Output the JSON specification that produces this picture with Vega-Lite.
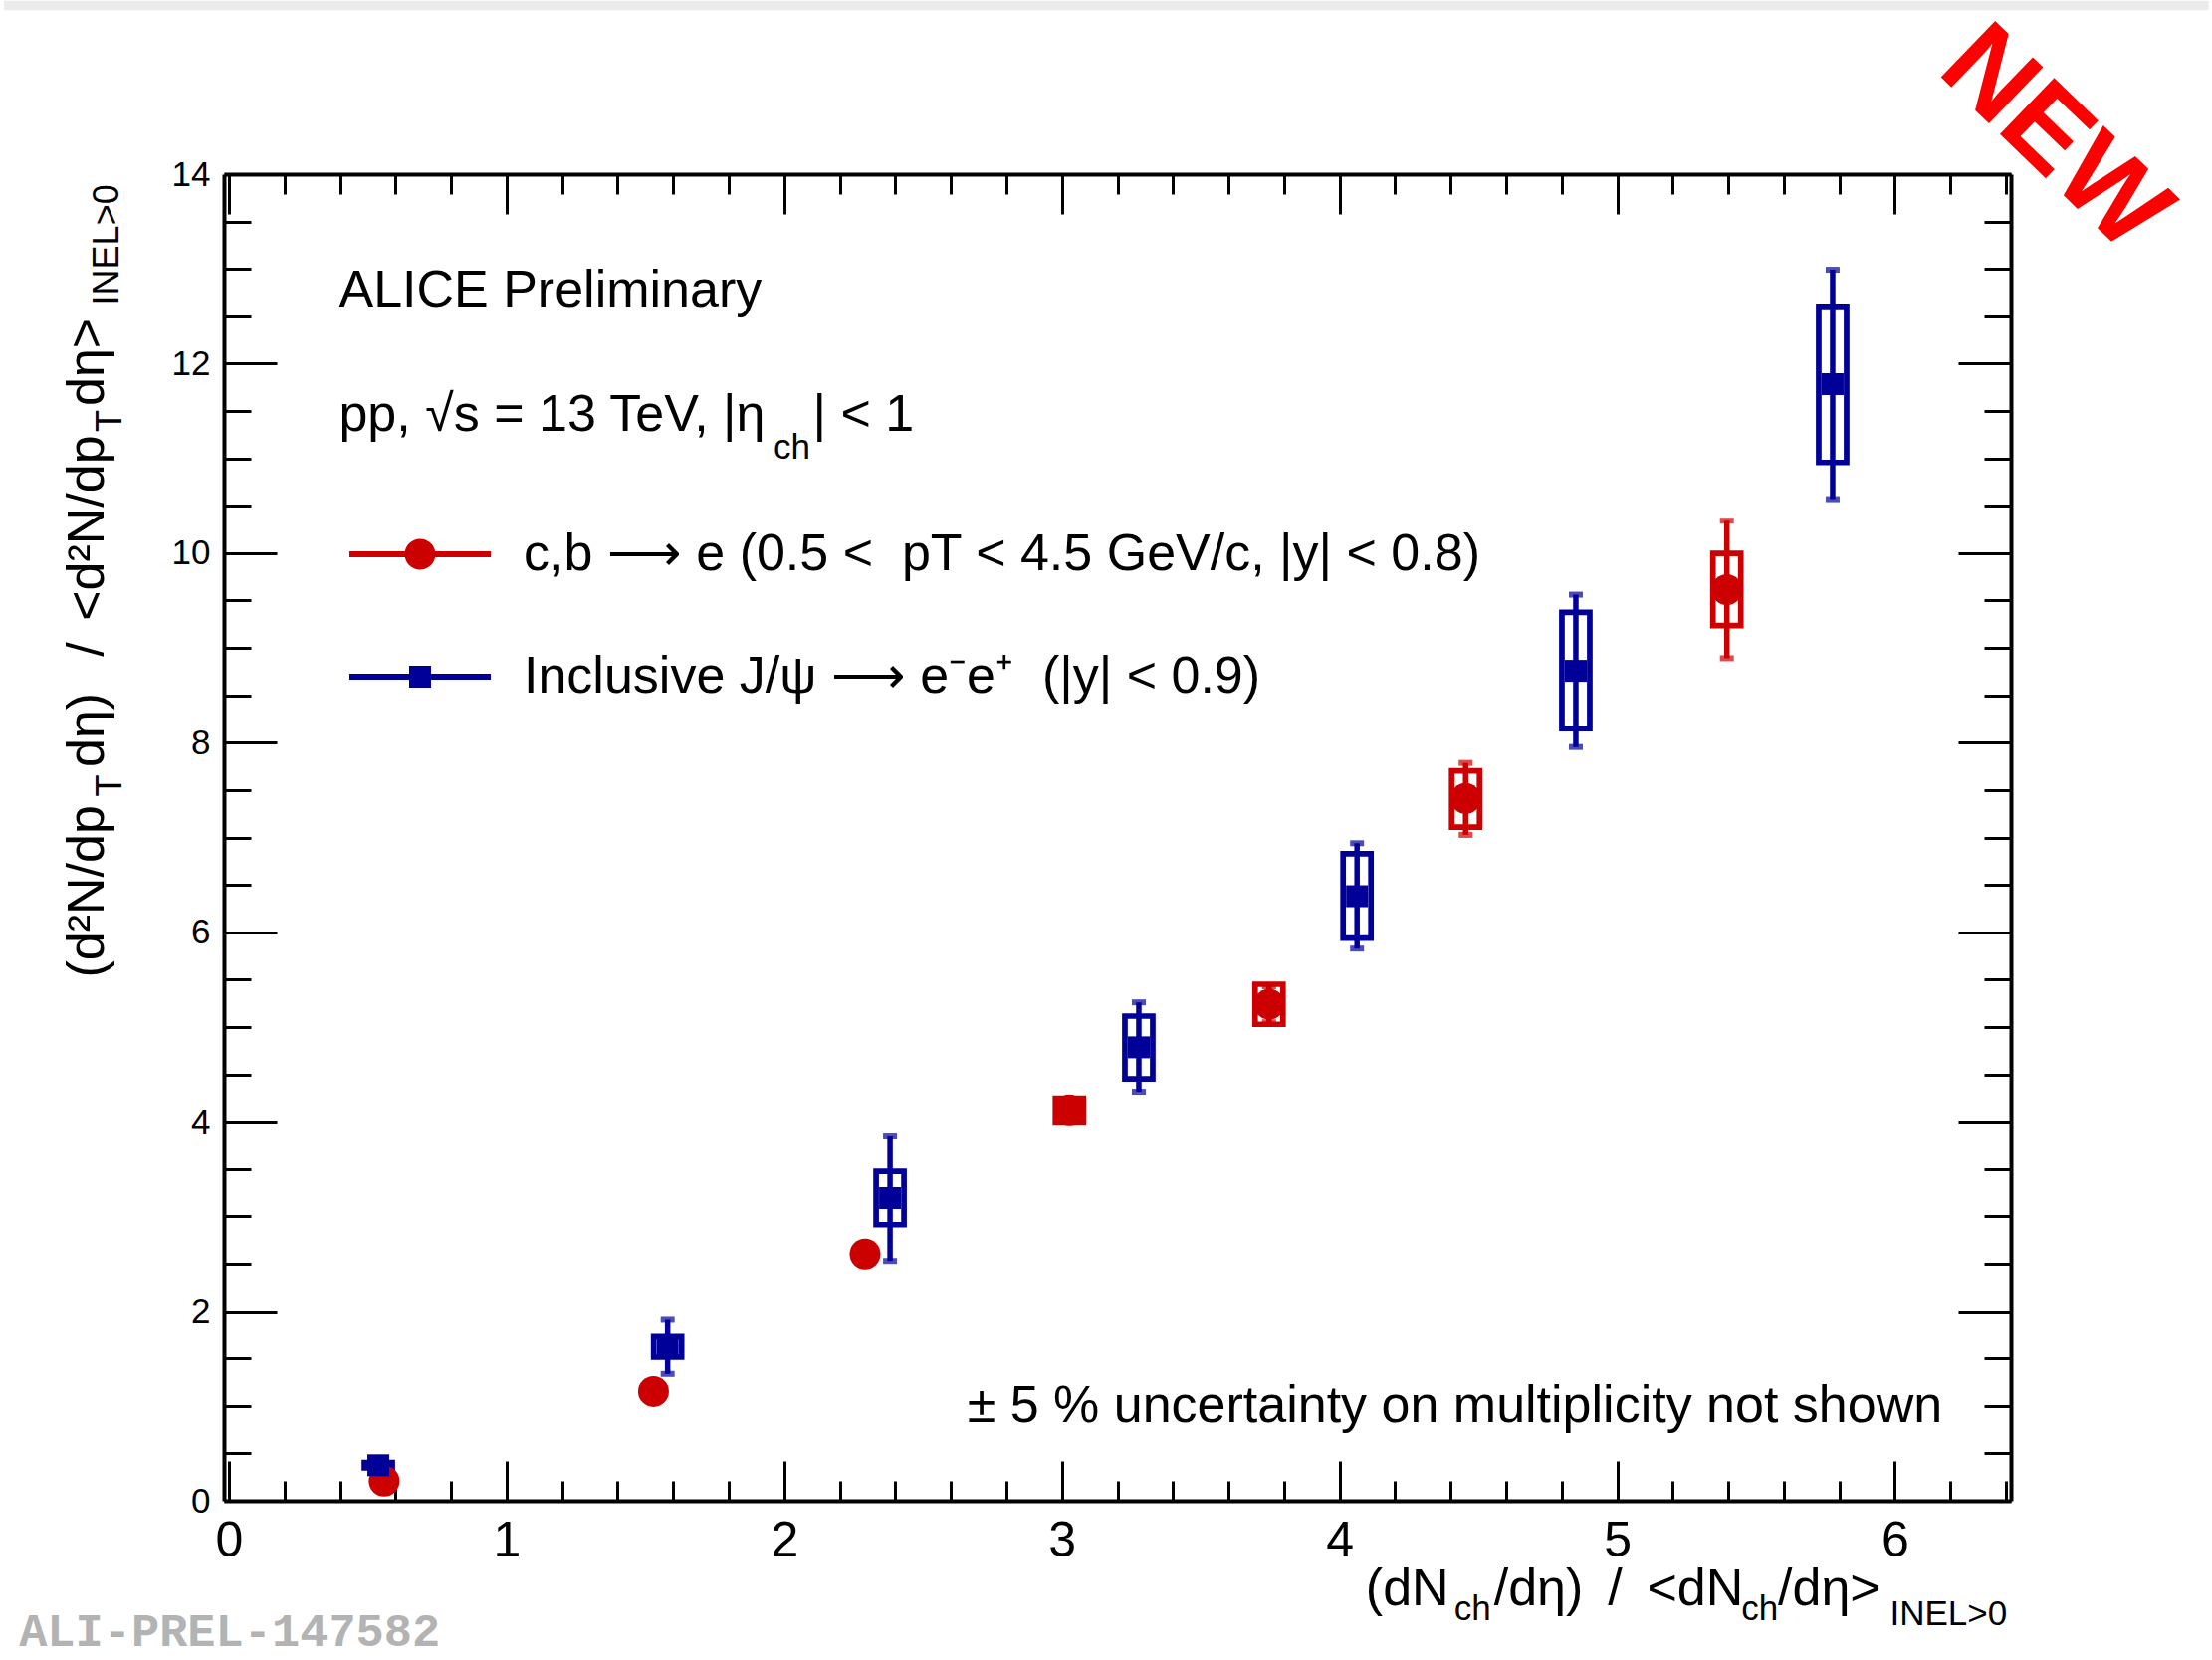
{
"$schema":"https://vega.github.io/schema/vega-lite/v6.json",
"width":1795,"height":1333,
"autosize":{"type":"none"},
"padding":{"left":225,"top":175,"right":202,"bottom":160},
"background":"white",
"datasets":{"pts":[
{"series":"c,b ⟶ e (0.5 <\u00a0 pT < 4.5 GeV/c, |y| < 0.8)","x":0.559,"y":0.207,"statLo":null,"statHi":null,"sysLo":null,"sysHi":null},
{"series":"c,b ⟶ e (0.5 <\u00a0 pT < 4.5 GeV/c, |y| < 0.8)","x":1.529,"y":1.151,"statLo":null,"statHi":null,"sysLo":null,"sysHi":null},
{"series":"c,b ⟶ e (0.5 <\u00a0 pT < 4.5 GeV/c, |y| < 0.8)","x":2.291,"y":2.602,"statLo":null,"statHi":null,"sysLo":null,"sysHi":null},
{"series":"c,b ⟶ e (0.5 <\u00a0 pT < 4.5 GeV/c, |y| < 0.8)","x":3.027,"y":4.124,"statLo":4.04,"statHi":4.21,"sysLo":3.996,"sysHi":4.248},
{"series":"c,b ⟶ e (0.5 <\u00a0 pT < 4.5 GeV/c, |y| < 0.8)","x":3.746,"y":5.24,"statLo":5.05,"statHi":5.43,"sysLo":5.028,"sysHi":5.451},
{"series":"c,b ⟶ e (0.5 <\u00a0 pT < 4.5 GeV/c, |y| < 0.8)","x":4.454,"y":7.411,"statLo":7.027,"statHi":7.786,"sysLo":7.11,"sysHi":7.703},
{"series":"c,b ⟶ e (0.5 <\u00a0 pT < 4.5 GeV/c, |y| < 0.8)","x":5.395,"y":9.615,"statLo":8.891,"statHi":10.343,"sysLo":9.236,"sysHi":9.998},
{"series":"Inclusive J/ψ ⟶ e⁻e⁺\u00a0 (|y| < 0.9)","x":0.538,"y":0.375,"statLo":null,"statHi":null,"sysLo":0.347,"sysHi":0.403},
{"series":"Inclusive J/ψ ⟶ e⁻e⁺\u00a0 (|y| < 0.9)","x":1.58,"y":1.63,"statLo":1.336,"statHi":1.917,"sysLo":1.513,"sysHi":1.74},
{"series":"Inclusive J/ψ ⟶ e⁻e⁺\u00a0 (|y| < 0.9)","x":2.381,"y":3.193,"statLo":2.529,"statHi":3.854,"sysLo":2.912,"sysHi":3.475},
{"series":"Inclusive J/ψ ⟶ e⁻e⁺\u00a0 (|y| < 0.9)","x":3.277,"y":4.785,"statLo":4.316,"statHi":5.26,"sysLo":4.451,"sysHi":5.115},
{"series":"Inclusive J/ψ ⟶ e⁻e⁺\u00a0 (|y| < 0.9)","x":4.063,"y":6.38,"statLo":5.827,"statHi":6.939,"sysLo":5.938,"sysHi":6.829},
{"series":"Inclusive J/ψ ⟶ e⁻e⁺\u00a0 (|y| < 0.9)","x":4.851,"y":8.758,"statLo":7.954,"statHi":9.562,"sysLo":8.149,"sysHi":9.375},
{"series":"Inclusive J/ψ ⟶ e⁻e⁺\u00a0 (|y| < 0.9)","x":5.776,"y":11.784,"statLo":10.57,"statHi":12.991,"sysLo":10.957,"sysHi":12.604}
]},
"resolve":{"axis":{"x":"independent","y":"independent"}},
"config":{"view":{"stroke":null},"font":"Liberation Sans"},
"layer":[
{"data":{"values":[{}]},"mark":{"type":"rect","color":"#ebebeb"},
 "encoding":{"x":{"datum":-0.81,"type":"quantitative","scale":{"domain":[0,6.4],"nice":false,"zero":false},"axis":null},"x2":{"datum":7.13},
 "y":{"datum":15.83,"type":"quantitative","scale":{"domain":[0,14],"nice":false,"zero":false},"axis":null},"y2":{"datum":15.729}}},
{"data":{"name":"pts"},"mark":{"type":"bar","filled":false,"strokeWidth":5.7,"width":28,"orient":"vertical"},
 "encoding":{
  "x":{"field":"x","type":"quantitative","scale":{"domain":[0,6.4],"nice":false,"zero":false},
       "axis":{"orient":"bottom","values":[0,1,2,3,4,5,6],"format":"d","labelFontSize":50,"labelFont":"Liberation Sans","labelColor":"black","labelPadding":15,"ticks":false,"tickSize":0,"domain":true,"domainWidth":4,"domainColor":"black","grid":false,"title":null,"labelFlush":false,"labelOverlap":false,"labelBound":false}},
  "y":{"field":"sysLo","type":"quantitative","scale":{"domain":[0,14],"nice":false,"zero":false},
       "axis":{"orient":"left","values":[0,2,4,6,8,10,12,14],"format":"d","labelFontSize":35,"labelFont":"Liberation Sans","labelColor":"black","labelPadding":14,"ticks":false,"tickSize":0,"domain":true,"domainWidth":4,"domainColor":"black","grid":false,"title":null,"labelFlush":false,"labelOverlap":false,"labelBound":false}},
  "y2":{"field":"sysHi"},
  "stroke":{"field":"series","type":"nominal","scale":{"domain":["Inclusive J/ψ ⟶ e⁻e⁺\u00a0 (|y| < 0.9)","c,b ⟶ e (0.5 <\u00a0 pT < 4.5 GeV/c, |y| < 0.8)"],"range":["#000099","#cc0000"]},"legend":null}}},
{"data":{"name":"pts"},"mark":{"type":"rule","strokeWidth":5.5},
 "encoding":{
  "x":{"field":"x","type":"quantitative","scale":{"domain":[0,6.4],"nice":false,"zero":false},
       "axis":{"orient":"bottom","values":[0,1,2,3,4,5,6],"labels":false,"ticks":true,"tickSize":-40,"tickWidth":3,"tickColor":"black","domain":false,"grid":false,"title":null}},
  "y":{"field":"statLo","type":"quantitative","scale":{"domain":[0,14],"nice":false,"zero":false},
       "axis":{"orient":"left","values":[0,2,4,6,8,10,12,14],"labels":false,"ticks":true,"tickSize":-53,"tickWidth":3,"tickColor":"black","domain":false,"grid":false,"title":null}},
  "y2":{"field":"statHi"},
  "stroke":{"field":"series","type":"nominal","scale":{"domain":["Inclusive J/ψ ⟶ e⁻e⁺\u00a0 (|y| < 0.9)","c,b ⟶ e (0.5 <\u00a0 pT < 4.5 GeV/c, |y| < 0.8)"],"range":["#000099","#cc0000"]},"legend":null}}},
{"data":{"name":"pts"},"mark":{"type":"tick","orient":"horizontal","size":14,"thickness":6},
 "encoding":{
  "x":{"field":"x","type":"quantitative","scale":{"domain":[0,6.4],"nice":false,"zero":false},
       "axis":{"orient":"bottom","values":[0.2,0.4,0.6,0.8,1.2,1.4,1.6,1.8,2.2,2.4,2.6,2.8,3.2,3.4,3.6,3.8,4.2,4.4,4.6,4.8,5.2,5.4,5.6,5.8,6.2,6.4],"labels":false,"ticks":true,"tickSize":-20,"tickWidth":3,"tickColor":"black","domain":false,"grid":false,"title":null}},
  "y":{"field":"statLo","type":"quantitative","scale":{"domain":[0,14],"nice":false,"zero":false},
       "axis":{"orient":"left","values":[0.5,1,1.5,2.5,3,3.5,4.5,5,5.5,6.5,7,7.5,8.5,9,9.5,10.5,11,11.5,12.5,13,13.5],"labels":false,"ticks":true,"tickSize":-27,"tickWidth":3,"tickColor":"black","domain":false,"grid":false,"title":null}},
  "fill":{"field":"series","type":"nominal","scale":{"domain":["Inclusive J/ψ ⟶ e⁻e⁺\u00a0 (|y| < 0.9)","c,b ⟶ e (0.5 <\u00a0 pT < 4.5 GeV/c, |y| < 0.8)"],"range":["#000099","#cc0000"]},"legend":null}}},
{"data":{"name":"pts"},"mark":{"type":"tick","orient":"horizontal","size":14,"thickness":6},
 "encoding":{
  "x":{"field":"x","type":"quantitative","scale":{"domain":[0,6.4],"nice":false,"zero":false},
       "axis":{"orient":"top","values":[0,1,2,3,4,5,6],"labels":false,"ticks":true,"tickSize":-40,"tickWidth":3,"tickColor":"black","domain":true,"domainWidth":4,"domainColor":"black","grid":false,"title":null}},
  "y":{"field":"statHi","type":"quantitative","scale":{"domain":[0,14],"nice":false,"zero":false},
       "axis":{"orient":"right","values":[0,2,4,6,8,10,12,14],"labels":false,"ticks":true,"tickSize":-53,"tickWidth":3,"tickColor":"black","domain":true,"domainWidth":4,"domainColor":"black","grid":false,"title":null}},
  "fill":{"field":"series","type":"nominal","scale":{"domain":["Inclusive J/ψ ⟶ e⁻e⁺\u00a0 (|y| < 0.9)","c,b ⟶ e (0.5 <\u00a0 pT < 4.5 GeV/c, |y| < 0.8)"],"range":["#000099","#cc0000"]},"legend":null}}},
{"data":{"name":"pts"},"transform":[{"filter":{"field":"series","equal":"c,b ⟶ e (0.5 <\u00a0 pT < 4.5 GeV/c, |y| < 0.8)"}}],
 "mark":{"type":"point","shape":"circle","filled":true,"size":961,"color":"#cc0000","opacity":1,"strokeWidth":0},
 "encoding":{
  "x":{"field":"x","type":"quantitative","scale":{"domain":[0,6.4],"nice":false,"zero":false},
       "axis":{"orient":"top","values":[0.2,0.4,0.6,0.8,1.2,1.4,1.6,1.8,2.2,2.4,2.6,2.8,3.2,3.4,3.6,3.8,4.2,4.4,4.6,4.8,5.2,5.4,5.6,5.8,6.2,6.4],"labels":false,"ticks":true,"tickSize":-20,"tickWidth":3,"tickColor":"black","domain":false,"grid":false,"title":null}},
  "y":{"field":"y","type":"quantitative","scale":{"domain":[0,14],"nice":false,"zero":false},
       "axis":{"orient":"right","values":[0.5,1,1.5,2.5,3,3.5,4.5,5,5.5,6.5,7,7.5,8.5,9,9.5,10.5,11,11.5,12.5,13,13.5],"labels":false,"ticks":true,"tickSize":-27,"tickWidth":3,"tickColor":"black","domain":false,"grid":false,"title":null}}}},
{"data":{"name":"pts"},"transform":[{"filter":{"field":"series","equal":"Inclusive J/ψ ⟶ e⁻e⁺\u00a0 (|y| < 0.9)"}}],
 "mark":{"type":"point","shape":"square","filled":true,"size":484,"color":"#000099","opacity":1,"strokeWidth":0},
 "encoding":{
  "x":{"field":"x","type":"quantitative","scale":{"domain":[0,6.4],"nice":false,"zero":false},"axis":null},
  "y":{"field":"y","type":"quantitative","scale":{"domain":[0,14],"nice":false,"zero":false},"axis":null}}},
{"data":{"name":"pts"},"mark":{"type":"point","filled":true,"opacity":0},
 "encoding":{
  "x":{"field":"x","type":"quantitative","scale":{"domain":[0,6.4],"nice":false,"zero":false},"axis":null},
  "y":{"field":"y","type":"quantitative","scale":{"domain":[0,14],"nice":false,"zero":false},"axis":null},
  "color":{"field":"series","type":"nominal","scale":{"domain":["c,b ⟶ e (0.5 <\u00a0 pT < 4.5 GeV/c, |y| < 0.8)","Inclusive J/ψ ⟶ e⁻e⁺\u00a0 (|y| < 0.9)"],"range":["#cc0000","#000099"]},
    "legend":{"orient":"none","legendX":126,"legendY":352,"title":null,"symbolSize":20164,"symbolStrokeWidth":0,"symbolOpacity":1,"labelFontSize":52,"labelFont":"Liberation Sans","labelColor":"black","labelLimit":0,"labelOffset":33,"rowPadding":63,"clipHeight":60,"padding":0}},
  "shape":{"field":"series","type":"nominal","scale":{"domain":["c,b ⟶ e (0.5 <\u00a0 pT < 4.5 GeV/c, |y| < 0.8)","Inclusive J/ψ ⟶ e⁻e⁺\u00a0 (|y| < 0.9)"],"range":["M-1,-0.042H-0.2V0.042H-1Z M0.2,-0.042H1V0.042H0.2Z M-0.218,0A0.218,0.218 0 1,1 0.218,0A0.218,0.218 0 1,1 -0.218,0Z","M-1,-0.042H1V0.042H-1Z M-0.155,-0.155H0.155V0.155H-0.155Z"]},
    "legend":{"orient":"none","legendX":126,"legendY":352,"title":null,"symbolSize":20164,"symbolStrokeWidth":0,"symbolOpacity":1,"labelFontSize":52,"labelFont":"Liberation Sans","labelColor":"black","labelLimit":0,"labelOffset":33,"rowPadding":63,"clipHeight":60,"padding":0}}}},
{"data":{"values":[{}]},"mark":{"type":"text","text":"ALICE Preliminary","align":"left","baseline":"alphabetic","font":"Liberation Sans","fontSize":52,"color":"black"},
 "encoding":{"x":{"datum":0.396,"type":"quantitative","scale":{"domain":[0,6.4],"nice":false,"zero":false},"axis":null},"y":{"datum":12.6,"type":"quantitative","scale":{"domain":[0,14],"nice":false,"zero":false},"axis":null}}},
{"data":{"values":[{}]},"mark":{"type":"text","text":"pp, √s = 13 TeV, |η","align":"left","baseline":"alphabetic","font":"Liberation Sans","fontSize":52,"color":"black"},
 "encoding":{"x":{"datum":0.396,"type":"quantitative","scale":{"domain":[0,6.4],"nice":false,"zero":false},"axis":null},"y":{"datum":11.29,"type":"quantitative","scale":{"domain":[0,14],"nice":false,"zero":false},"axis":null}}},
{"data":{"values":[{}]},"mark":{"type":"text","text":"ch","align":"left","baseline":"alphabetic","font":"Liberation Sans","fontSize":35,"color":"black"},
 "encoding":{"x":{"datum":1.961,"type":"quantitative","scale":{"domain":[0,6.4],"nice":false,"zero":false},"axis":null},"y":{"datum":11.0,"type":"quantitative","scale":{"domain":[0,14],"nice":false,"zero":false},"axis":null}}},
{"data":{"values":[{}]},"mark":{"type":"text","text":"| < 1","align":"left","baseline":"alphabetic","font":"Liberation Sans","fontSize":52,"color":"black"},
 "encoding":{"x":{"datum":2.103,"type":"quantitative","scale":{"domain":[0,6.4],"nice":false,"zero":false},"axis":null},"y":{"datum":11.29,"type":"quantitative","scale":{"domain":[0,14],"nice":false,"zero":false},"axis":null}}},
{"data":{"values":[{}]},"mark":{"type":"text","text":"± 5 % uncertainty on multiplicity not shown","align":"right","baseline":"alphabetic","font":"Liberation Sans","fontSize":52,"color":"black"},
 "encoding":{"x":{"datum":6.171,"type":"quantitative","scale":{"domain":[0,6.4],"nice":false,"zero":false},"axis":null},"y":{"datum":0.83,"type":"quantitative","scale":{"domain":[0,14],"nice":false,"zero":false},"axis":null}}},
{"data":{"values":[{}]},"mark":{"type":"text","text":"(dN","align":"left","baseline":"alphabetic","font":"Liberation Sans","fontSize":52,"color":"black"},
 "encoding":{"x":{"datum":4.094,"type":"quantitative","scale":{"domain":[0,6.4],"nice":false,"zero":false},"axis":null},"y":{"datum":-1.102,"type":"quantitative","scale":{"domain":[0,14],"nice":false,"zero":false},"axis":null}}},
{"data":{"values":[{}]},"mark":{"type":"text","text":"ch","align":"left","baseline":"alphabetic","font":"Liberation Sans","fontSize":35,"color":"black"},
 "encoding":{"x":{"datum":4.413,"type":"quantitative","scale":{"domain":[0,6.4],"nice":false,"zero":false},"axis":null},"y":{"datum":-1.259,"type":"quantitative","scale":{"domain":[0,14],"nice":false,"zero":false},"axis":null}}},
{"data":{"values":[{}]},"mark":{"type":"text","text":"/dη) \u2009/\u2009 <dN","align":"left","baseline":"alphabetic","font":"Liberation Sans","fontSize":52,"color":"black"},
 "encoding":{"x":{"datum":4.556,"type":"quantitative","scale":{"domain":[0,6.4],"nice":false,"zero":false},"axis":null},"y":{"datum":-1.102,"type":"quantitative","scale":{"domain":[0,14],"nice":false,"zero":false},"axis":null}}},
{"data":{"values":[{}]},"mark":{"type":"text","text":"ch","align":"left","baseline":"alphabetic","font":"Liberation Sans","fontSize":35,"color":"black"},
 "encoding":{"x":{"datum":5.447,"type":"quantitative","scale":{"domain":[0,6.4],"nice":false,"zero":false},"axis":null},"y":{"datum":-1.259,"type":"quantitative","scale":{"domain":[0,14],"nice":false,"zero":false},"axis":null}}},
{"data":{"values":[{}]},"mark":{"type":"text","text":"/dη>","align":"left","baseline":"alphabetic","font":"Liberation Sans","fontSize":52,"color":"black"},
 "encoding":{"x":{"datum":5.579,"type":"quantitative","scale":{"domain":[0,6.4],"nice":false,"zero":false},"axis":null},"y":{"datum":-1.102,"type":"quantitative","scale":{"domain":[0,14],"nice":false,"zero":false},"axis":null}}},
{"data":{"values":[{}]},"mark":{"type":"text","text":"INEL>0","align":"left","baseline":"alphabetic","font":"Liberation Sans","fontSize":35,"color":"black"},
 "encoding":{"x":{"datum":5.982,"type":"quantitative","scale":{"domain":[0,6.4],"nice":false,"zero":false},"axis":null},"y":{"datum":-1.312,"type":"quantitative","scale":{"domain":[0,14],"nice":false,"zero":false},"axis":null}}},
{"data":{"values":[{}]},"mark":{"type":"text","text":"(d²N/dp","angle":270,"align":"left","baseline":"alphabetic","font":"Liberation Sans","fontSize":52,"color":"black"},
 "encoding":{"x":{"datum":-0.453,"type":"quantitative","scale":{"domain":[0,6.4],"nice":false,"zero":false},"axis":null},"y":{"datum":5.519,"type":"quantitative","scale":{"domain":[0,14],"nice":false,"zero":false},"axis":null}}},
{"data":{"values":[{}]},"mark":{"type":"text","text":"T","angle":270,"align":"left","baseline":"alphabetic","font":"Liberation Sans","fontSize":36,"color":"black"},
 "encoding":{"x":{"datum":-0.389,"type":"quantitative","scale":{"domain":[0,6.4],"nice":false,"zero":false},"axis":null},"y":{"datum":7.43,"type":"quantitative","scale":{"domain":[0,14],"nice":false,"zero":false},"axis":null}}},
{"data":{"values":[{}]},"mark":{"type":"text","text":"dη)","angle":270,"align":"left","baseline":"alphabetic","font":"Liberation Sans","fontSize":52,"color":"black"},
 "encoding":{"x":{"datum":-0.453,"type":"quantitative","scale":{"domain":[0,6.4],"nice":false,"zero":false},"axis":null},"y":{"datum":7.74,"type":"quantitative","scale":{"domain":[0,14],"nice":false,"zero":false},"axis":null}}},
{"data":{"values":[{}]},"mark":{"type":"text","text":"/","angle":270,"align":"left","baseline":"alphabetic","font":"Liberation Sans","fontSize":52,"color":"black"},
 "encoding":{"x":{"datum":-0.453,"type":"quantitative","scale":{"domain":[0,6.4],"nice":false,"zero":false},"axis":null},"y":{"datum":8.909,"type":"quantitative","scale":{"domain":[0,14],"nice":false,"zero":false},"axis":null}}},
{"data":{"values":[{}]},"mark":{"type":"text","text":"<d²N/dp","angle":270,"align":"left","baseline":"alphabetic","font":"Liberation Sans","fontSize":52,"color":"black"},
 "encoding":{"x":{"datum":-0.453,"type":"quantitative","scale":{"domain":[0,6.4],"nice":false,"zero":false},"axis":null},"y":{"datum":9.286,"type":"quantitative","scale":{"domain":[0,14],"nice":false,"zero":false},"axis":null}}},
{"data":{"values":[{}]},"mark":{"type":"text","text":"T","angle":270,"align":"left","baseline":"alphabetic","font":"Liberation Sans","fontSize":36,"color":"black"},
 "encoding":{"x":{"datum":-0.389,"type":"quantitative","scale":{"domain":[0,6.4],"nice":false,"zero":false},"axis":null},"y":{"datum":11.28,"type":"quantitative","scale":{"domain":[0,14],"nice":false,"zero":false},"axis":null}}},
{"data":{"values":[{}]},"mark":{"type":"text","text":"dη>","angle":270,"align":"left","baseline":"alphabetic","font":"Liberation Sans","fontSize":52,"color":"black"},
 "encoding":{"x":{"datum":-0.453,"type":"quantitative","scale":{"domain":[0,6.4],"nice":false,"zero":false},"axis":null},"y":{"datum":11.553,"type":"quantitative","scale":{"domain":[0,14],"nice":false,"zero":false},"axis":null}}},
{"data":{"values":[{}]},"mark":{"type":"text","text":"INEL>0","angle":270,"align":"left","baseline":"alphabetic","font":"Liberation Sans","fontSize":36,"color":"black"},
 "encoding":{"x":{"datum":-0.399,"type":"quantitative","scale":{"domain":[0,6.4],"nice":false,"zero":false},"axis":null},"y":{"datum":12.62,"type":"quantitative","scale":{"domain":[0,14],"nice":false,"zero":false},"axis":null}}},
{"data":{"values":[{}]},"mark":{"type":"text","text":"NEW","angle":44,"align":"center","baseline":"middle","font":"Liberation Sans","fontWeight":"bold","fontSize":114,"color":"#ff0000"},
 "encoding":{"x":{"datum":6.574,"type":"quantitative","scale":{"domain":[0,6.4],"nice":false,"zero":false},"axis":null},"y":{"datum":14.365,"type":"quantitative","scale":{"domain":[0,14],"nice":false,"zero":false},"axis":null}}},
{"data":{"values":[{}]},"mark":{"type":"text","text":"ALI-PREL-147582","align":"left","baseline":"alphabetic","font":"Liberation Mono","fontWeight":"bold","fontSize":47,"color":"#b3b3b3"},
 "encoding":{"x":{"datum":-0.756,"type":"quantitative","scale":{"domain":[0,6.4],"nice":false,"zero":false},"axis":null},"y":{"datum":-1.53,"type":"quantitative","scale":{"domain":[0,14],"nice":false,"zero":false},"axis":null}}}
]
}
